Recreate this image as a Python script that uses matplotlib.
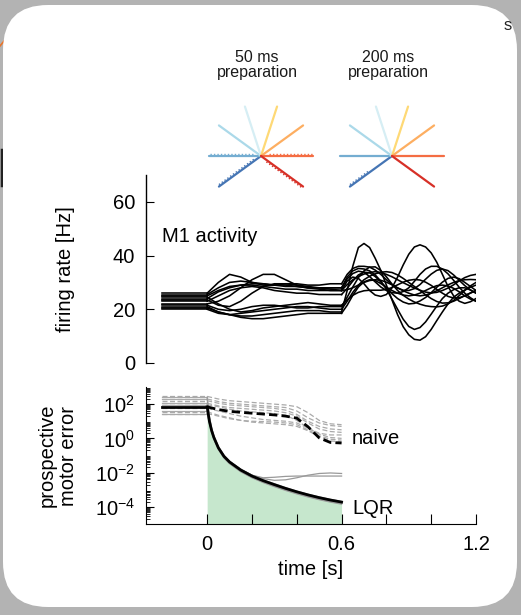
import numpy as np
import matplotlib
matplotlib.use("Agg")
import matplotlib.pyplot as plt
from matplotlib.patches import FancyBboxPatch
from matplotlib.ticker import FixedLocator, NullFormatter, FixedFormatter

plt.rcParams['font.family'] = ['Liberation Sans', 'DejaVu Sans']
plt.rcParams['mathtext.fontset'] = 'custom'
plt.rcParams['mathtext.rm'] = 'Liberation Sans'
plt.rcParams['mathtext.it'] = 'Liberation Sans:italic'

W, H = 521, 615
FS = 14.5

# ---------------- reach directions (degrees) and colours ----------------
reach_angles = [-144, 180, 144, 108, 72, 36, 0, -36]
reach_colors = ['#4575b4', '#74add1', '#abd9e9', '#d6eef4',
                '#fed976', '#fdae61', '#f46d43', '#d73027']
reach_length = 52
prep_titles = ['50 ms\npreparation', '200 ms\npreparation']
noisy_arms = [[-144, -36, 180, 0], [-144]]

# ---------------- M1 firing rates ----------------
t_pre = [-0.2, 0.0]
t_prep = [0.00, 0.05, 0.10, 0.15, 0.20, 0.25, 0.30, 0.35, 0.40, 0.45, 0.50,
          0.55, 0.60]
t_exec = [0.600, 0.625, 0.650, 0.675, 0.700, 0.725, 0.750, 0.775, 0.800,
          0.825, 0.850, 0.875, 0.900, 0.925, 0.950, 0.975, 1.000, 1.025,
          1.050, 1.075, 1.100, 1.125, 1.150, 1.175, 1.200]
rate_pre = [20.5, 25.0, 24.0, 26.0, 25.5, 22.0, 23.0, 21.0, 21.5, 24.5, 20.0, 23.5]
rate_prep = [
    [20.5, 19, 18, 17.5, 17.5, 18, 18.5, 19, 19.5, 19.5, 19.5, 19, 19],
    [25, 27, 28.5, 29, 29, 28.5, 28, 27.5, 27.5, 27, 27, 27, 27],
    [24, 26.5, 28, 29, 29.5, 29.5, 29, 28.5, 28.5, 28, 28, 28, 28],
    [26, 30, 33, 32, 30, 29, 29, 29.5, 29.5, 29, 29, 29.5, 29.5],
    [25.5, 28, 30, 30.5, 30, 29.5, 29, 29, 28.5, 28, 28, 28, 28],
    [22, 23, 25, 28, 31, 33, 33, 31, 29, 28, 27.5, 27, 27],
    [23, 25, 27, 28, 28.5, 28, 27, 26.5, 26, 26, 25.5, 25.5, 25.5],
    [21, 19, 18, 17, 16.5, 16.5, 17, 17.5, 18, 18.5, 18.5, 18.5, 18.5],
    [21.5, 20, 19.5, 20, 21, 21.5, 21.5, 21, 20.5, 20.5, 21, 21, 21],
    [24.5, 22, 20, 19, 19.5, 20.5, 21, 21.5, 22, 22.5, 22, 21.5, 21.5],
    [20, 18.5, 18, 18.5, 19, 19.5, 20, 20.5, 21, 21, 20.5, 20, 20],
    [23.5, 21.5, 21, 23, 26, 28.5, 29.5, 29.5, 29, 28.5, 28, 27.5, 27],
]
rate_exec = [
    [19, 27, 36, 43, 44.5, 43, 39, 34.5, 29, 23.5, 18, 13.5, 10.5, 8.8, 8.5,
     9.8, 12.5, 15.8, 19, 22, 24.5, 26, 27.2, 28.2, 29],
    [27, 30.5, 32, 31.5, 29.5, 27, 25.3, 24.8, 25.5, 28, 32, 36.5, 40.5, 43.2,
     44, 43.2, 41, 37.5, 33, 28.5, 25, 23, 22.2, 22.8, 24],
    [28, 32, 34.3, 35.2, 35, 34.3, 32.8, 30.5, 27.5, 23.8, 20, 16.3, 13.6,
     12.5, 13.2, 15.3, 18.2, 21.2, 24, 26, 27.3, 28, 28, 27.2, 26],
    [29.5, 33, 35.2, 36, 36, 35.7, 34.6, 33, 31, 29.2, 27.9, 27.1, 27, 27.7,
     29.2, 31.2, 33.1, 34.5, 35, 34.4, 32.8, 30.8, 28.8, 27.2, 26],
    [28, 31.3, 33.3, 34.2, 33.8, 32.2, 30.2, 28.3, 27, 26.2, 26, 26.6, 28,
     30.4, 33, 35, 36, 36, 35, 33.2, 30.8, 28.2, 26, 24.3, 23],
    [27, 27.3, 28, 29, 30, 30.7, 31, 30.8, 30.1, 29.1, 28, 26.9, 26, 25.3, 25,
     25.3, 26, 26.9, 28, 29.1, 30, 30.7, 31, 31.1, 31],
    [25.5, 27.8, 30.5, 32.8, 33.8, 33.6, 32.2, 30.2, 28, 25.8, 24, 22.7, 22,
     22.2, 23.1, 24.4, 26.2, 28.2, 30.1, 31.5, 32, 31.4, 30, 28.5, 27],
    [18.5, 21.5, 25.2, 28.3, 30.2, 31, 30.7, 29.6, 28.2, 27, 26, 25.3, 25,
     25.3, 26, 27, 28, 28.8, 29, 28.7, 27.8, 26.5, 25, 23.8, 23],
    [21, 24.5, 28.3, 31.8, 34.3, 35.7, 35.8, 34.4, 32.1, 29.4, 27, 25.2, 23.8,
     22.7, 21.9, 21.3, 21, 20.9, 21.2, 22, 23.3, 25.1, 27, 28.7, 30],
    [21.5, 23.5, 25.2, 26.3, 26.9, 27.1, 27.1, 27.1, 27.4, 28.1, 29.1, 30.1,
     30.8, 31.1, 30.9, 30.1, 28.9, 27.4, 26, 24.8, 24.2, 24.3, 25, 26, 27],
    [20, 23, 26.3, 29, 31, 32.3, 33.2, 33.8, 34, 33.7, 32.8, 31.5, 30, 28.5,
     27, 25.4, 24, 22.9, 22.3, 22.4, 23, 24, 25.1, 26.1, 27],
    [27, 29.2, 31, 32.2, 33.1, 33.7, 34, 33.7, 33, 32.1, 31, 29.9, 28.9, 27.9,
     27.1, 26.4, 26.1, 26.3, 27, 27.9, 29.1, 30.6, 31.8, 32.6, 33],
]

# ---------------- prospective motor error (log10 values) ----------------
t_lqr = [0, 0.01, 0.02, 0.03, 0.05, 0.075, 0.1, 0.15, 0.2, 0.25, 0.3, 0.35,
         0.4, 0.45, 0.5, 0.55, 0.6]
lqr_mean = [1.84, 1.0, 0.45, 0.05, -0.55, -1.05, -1.38, -1.85, -2.2, -2.47,
            -2.7, -2.92, -3.12, -3.3, -3.46, -3.6, -3.72]
lqr_trials = [
    [2.3, 1.3, 0.6, 0.15, -0.5, -1.0, -1.35, -1.8, -2.15, -2.35, -2.45, -2.42,
     -2.3, -2.15, -2.05, -2.02, -2.05],
    [2.05, 1.2, 0.55, 0.1, -0.5, -1.0, -1.35, -1.82, -2.15, -2.3, -2.27, -2.22,
     -2.2, -2.2, -2.2, -2.2, -2.2],
    [1.95, 1.0, 0.45, 0.05, -0.6, -1.1, -1.45, -1.92, -2.28, -2.55, -2.78, -3.0,
     -3.2, -3.38, -3.55, -3.68, -3.8],
    [1.6, 0.9, 0.4, 0.0, -0.6, -1.1, -1.42, -1.9, -2.25, -2.52, -2.75, -2.97,
     -3.17, -3.35, -3.5, -3.65, -3.76],
    [2.4, 1.1, 0.5, 0.1, -0.5, -1.0, -1.33, -1.8, -2.15, -2.42, -2.65, -2.88,
     -3.08, -3.26, -3.42, -3.56, -3.68],
    [1.45, 0.9, 0.35, -0.05, -0.65, -1.15, -1.48, -1.95, -2.3, -2.58, -2.82,
     -3.04, -3.24, -3.42, -3.58, -3.72, -3.84],
]
t_naive = [0, 0.05, 0.1, 0.15, 0.2, 0.25, 0.3, 0.35, 0.4, 0.45, 0.5, 0.55, 0.6]
naive_mean = [1.84, 1.68, 1.58, 1.52, 1.47, 1.42, 1.37, 1.3, 1.18, 0.68, 0.03,
              -0.24, -0.27]
naive_trials = [
    [2.45, 2.3, 2.2, 2.15, 2.1, 2.05, 2.0, 1.95, 1.85, 1.5, 1.05, 0.85, 0.8],
    [2.3, 2.15, 2.05, 2.0, 1.95, 1.9, 1.85, 1.8, 1.6, 1.2, 0.9, 0.75, 0.7],
    [2.2, 2.05, 1.95, 1.9, 1.85, 1.8, 1.75, 1.65, 1.4, 1.0, 0.7, 0.55, 0.5],
    [2.05, 1.9, 1.8, 1.75, 1.7, 1.65, 1.6, 1.5, 1.3, 0.9, 0.55, 0.4, 0.35],
    [1.95, 1.85, 1.7, 1.6, 1.55, 1.5, 1.45, 1.35, 1.05, 0.6, 0.3, 0.2, 0.2],
    [1.75, 1.6, 1.45, 1.3, 1.2, 1.1, 1.05, 1.0, 0.9, 0.6, 0.25, 0.05, 0.0],
    [1.55, 1.35, 1.2, 1.05, 0.95, 0.9, 0.85, 0.8, 0.7, 0.45, 0.1, -0.15, -0.2],
    [1.45, 1.3, 1.15, 1.05, 1.0, 0.98, 0.95, 0.9, 0.8, 0.5, 0.15, -0.05, -0.1],
]
time_ticks = [0, 0.2, 0.4, 0.6, 0.8, 1.0, 1.2]
time_labels = ['0', '', '', '0.6', '', '', '1.2']
rate_ticks = [0, 20, 40, 60]
err_ticks = [1e-4, 1e-2, 1e0, 1e2]

# ---------------- figure and card background ----------------
fig = plt.figure(figsize=(W / 100, H / 100), dpi=100)
fig.patch.set_facecolor('#b3b3b3')
bg = fig.add_axes([0, 0, 1, 1])
bg.set_xlim(0, W)
bg.set_ylim(H, 0)
bg.axis('off')
# bits of the neighbouring panels peeking out from behind the card
bg.plot([0, 9], [46, 35], color='#e8742a', lw=1.2, zorder=1)
bg.plot([1.5, 1.5], [150, 185], color='#222222', lw=2.5, zorder=1)
bg.add_patch(FancyBboxPatch((3, 5), 514, 602,
                            boxstyle='round,pad=0,rounding_size=45',
                            facecolor='white', edgecolor='none', zorder=2))
bg.text(504, 25, 's', fontsize=12, color='#222222', ha='left', va='center',
        zorder=3)


def px_axes(x0, y0, x1, y1):
    a = fig.add_axes([x0 / W, 1 - y1 / H, (x1 - x0) / W, (y1 - y0) / H])
    a.patch.set_facecolor('none')
    return a


XLIM = (-0.273, 1.2)

# ---------------- reach trajectories ----------------
for k, (cx, title) in enumerate(zip([261, 392], prep_titles)):
    ax = px_axes(cx - 65, 156 - 65, cx + 65, 156 + 65)
    ax.set_xlim(-65, 65)
    ax.set_ylim(-65, 65)
    ax.axis('off')
    for ang, col in zip(reach_angles, reach_colors):
        a = np.deg2rad(ang)
        ex, ey = reach_length * np.cos(a), reach_length * np.sin(a)
        ax.plot([0, ex], [0, ey], color=col, lw=1.6, solid_capstyle='round')
        if ang in noisy_arms[k]:
            nx, ny = -np.sin(a) * 1.6, np.cos(a) * 1.6
            if ey < 0 or ang == 180:
                nx, ny = -nx, -ny
            start = 0.15 if k == 0 else 0.55
            ax.plot([start * ex + nx, ex + nx], [start * ey + ny, ey + ny],
                    color=col, lw=1.0, ls=(0, (1, 1.5)))
    fig.text((cx - 4) / W, 1 - 65 / H, title, ha='center', va='center',
             fontsize=11.5, linespacing=0.95, color='#1a1a1a')

# ---------------- M1 activity ----------------
ax1 = px_axes(146, 175, 476, 363)
for pre, tr1, tr2 in zip(rate_pre, rate_prep, rate_exec):
    ax1.plot(t_pre, [pre, pre], color='black', lw=1.15)
    ax1.plot(t_prep, tr1, color='black', lw=1.15)
    ax1.plot(t_exec, tr2, color='black', lw=1.15)
ax1.set_xlim(*XLIM)
ax1.set_ylim(0, 70)
for s in ['top', 'right', 'bottom']:
    ax1.spines[s].set_visible(False)
ax1.spines['left'].set_linewidth(1.0)
ax1.set_xticks([])
ax1.set_yticks(rate_ticks)
ax1.tick_params(axis='y', direction='in', length=6, labelsize=FS, pad=8)
ax1.set_ylabel('firing rate [Hz]', fontsize=FS, labelpad=27)
ax1.text(162, 237, 'M1 activity', transform=bg.transData, fontsize=FS,
         ha='left', va='center')

# ---------------- prospective motor error ----------------
ax2 = px_axes(146, 387, 476, 524)
tn = np.array(t_naive)
tl = np.array(t_lqr)
ax2.fill_between(tl, 10.0 ** np.array(lqr_mean), 1e-5, color='#c6e7cd',
                 lw=0, zorder=1)
for tr in naive_trials:
    ax2.plot([-0.2, 0], [10 ** tr[0]] * 2, color='#aaaaaa', lw=0.9,
             ls=(0, (4, 2)), zorder=2)
    ax2.plot(tn, 10.0 ** np.array(tr), color='#aaaaaa', lw=0.9,
             ls=(0, (4, 2)), zorder=2)
for tr in lqr_trials:
    ax2.plot([-0.2, 0], [10 ** tr[0]] * 2, color='#aaaaaa', lw=0.9, zorder=2)
    ax2.plot(tl, 10.0 ** np.array(tr), color='#999999', lw=0.9, zorder=3)
ax2.plot([-0.2, 0], [10 ** lqr_mean[0]] * 2, color='black', lw=2.0, zorder=4)
ax2.plot(tn, 10.0 ** np.array(naive_mean), color='black', lw=2.0,
         ls=(0, (3, 1.5)), zorder=4)
ax2.plot(tl, 10.0 ** np.array(lqr_mean), color='black', lw=2.0, zorder=5)
ax2.set_yscale('log')
ax2.set_xlim(*XLIM)
ax2.set_ylim(1e-5, 1e3)
for s in ['top', 'right']:
    ax2.spines[s].set_visible(False)
ax2.yaxis.set_major_locator(FixedLocator(err_ticks))
ax2.yaxis.set_major_formatter(FixedFormatter(
    [r'$10^{-4}$', r'$10^{-2}$', r'$10^{0}$', r'$10^{2}$']))
minor = [m * 10.0 ** e for e in range(-5, 3) for m in range(2, 10)]
ax2.yaxis.set_minor_locator(FixedLocator(minor))
ax2.yaxis.set_minor_formatter(NullFormatter())
ax2.tick_params(axis='y', which='major', direction='in', length=6,
                labelsize=FS, pad=8)
ax2.tick_params(axis='y', which='minor', direction='in', length=3)
ax2.set_xticks(time_ticks)
ax2.set_xticklabels(time_labels)
ax2.tick_params(axis='x', direction='in', length=7, labelsize=FS, pad=8)
ax2.set_xlabel('time [s]', fontsize=FS, labelpad=4)
ax2.set_ylabel('prospective\nmotor error', fontsize=FS, labelpad=12,
               linespacing=1.15)
ax2.text(352, 438, 'naive', transform=bg.transData, fontsize=FS,
         ha='left', va='center')
ax2.text(352, 508, 'LQR', transform=bg.transData, fontsize=FS,
         ha='left', va='center')

fig.savefig('out.png', dpi=100, facecolor=fig.get_facecolor())
